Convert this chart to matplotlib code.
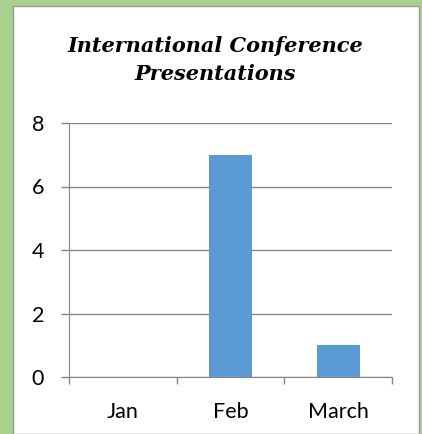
import matplotlib
matplotlib.use('Agg')
import matplotlib.pyplot as plt
from matplotlib.patches import Rectangle

### data
months = ['Jan', 'Feb', 'March']
presentations = [0, 7, 1]
yticks = [0, 2, 4, 6, 8]

W, H = 422, 434
px = 0.72  # one pixel in points at dpi 100
fig = plt.figure(figsize=(W/100, H/100), dpi=100)
fig.patch.set_facecolor('#A9D18E')

# white panel with thin grey frame
fig.patches.append(Rectangle((13/W, 0), (419-13)/W, (H-6)/H, transform=fig.transFigure,
                             facecolor='white', edgecolor='#9a9a9a', linewidth=1, zorder=-1))

ax = fig.add_axes([69/W, (H-377)/H, (392-69)/W, (377-123)/H])
ax.set_facecolor('none')
ax.set_zorder(2)

ax.bar(range(len(months)), presentations, width=0.4, color='#5B9BD5', zorder=3)

ax.set_xlim(-0.5, 2.5)
ax.set_ylim(0, 8)
ax.set_yticks(yticks)
ax.set_xticks([0, 1, 2])
ax.set_xticklabels(months)
ax.set_xticks([-0.5, 0.5, 1.5, 2.5], minor=True)
ax.tick_params(axis='x', which='major', length=0, pad=25*px, labelsize=15.5)
ax.tick_params(axis='x', which='minor', length=7*px, color='#868686', width=1)
ax.tick_params(axis='y', length=8*px, color='#868686', width=1, pad=17*px, labelsize=15.5)
for lab in ax.get_xticklabels() + ax.get_yticklabels():
    lab.set_family('Lato')

ax.grid(axis='y', color='#868686', linewidth=1, zorder=0)
for s in ['top', 'right']:
    ax.spines[s].set_visible(False)
ax.spines['left'].set_color('#868686')
ax.spines['bottom'].set_color('#868686')

fig.text(215/W, 1-60/H, 'International Conference\nPresentations', ha='center', va='center',
         fontsize=15, fontweight='bold', fontstyle='italic', family='DejaVu Serif',
         linespacing=1.5, zorder=5)

plt.savefig('out.png', dpi=100, facecolor=fig.get_facecolor())
plt.close()
